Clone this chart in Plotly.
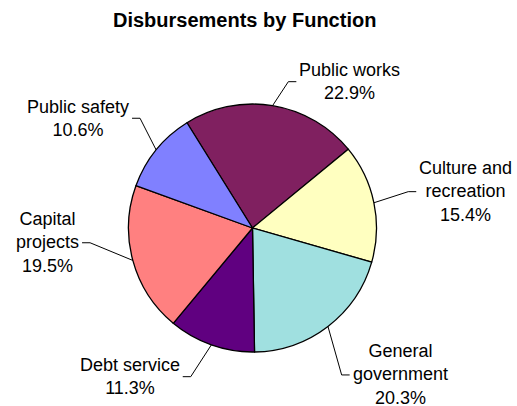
import math
import plotly.graph_objects as go

# ---- data ----
categories = ["Public works", "Culture and recreation", "General government",
              "Debt service", "Capital projects", "Public safety"]
label_lines = ["Public works", "Culture and<br>recreation", "General<br>government",
               "Debt service", "Capital<br>projects", "Public safety"]
shares = [22.9, 15.4, 20.3, 11.3, 19.5, 10.6]
colors = ["#802060", "#FFFFC0", "#A0E0E0", "#600080", "#FF8080", "#8080FF"]
title_text = "Disbursements by Function"

# ---- layout config ----
W, H = 517, 406
CX, CY, R = 252.5, 228.0, 124.0       # pie centre / radius in pixels
START = -31.9                          # first slice start angle (deg, clockwise from 12 o'clock)
# label elbow points relative to pie centre, in radius units (y downward)
elbows = [(0.289, -1.180), (1.256, -0.293), (0.719, 1.185),
          (-0.498, 1.199), (-1.310, 0.119), (-0.907, -0.885)]
HSEG = 8.0
FONT = "Arial, Liberation Sans, sans-serif"

def px(x):
    return x / W

def py(y):
    return 1 - y / H

fig = go.Figure(go.Pie(
    labels=categories, values=shares, sort=False, direction="clockwise",
    rotation=START, textinfo="none", hoverinfo="label+percent",
    marker=dict(colors=colors, line=dict(color="black", width=1.3)),
    domain=dict(x=[px(CX - R), px(CX + R)], y=[py(CY + R), py(CY - R)]),
    showlegend=False,
))

total = sum(shares)
shapes, annotations = [], []
angle = START
for name, txt, v, (ex, ey) in zip(categories, label_lines, shares, elbows):
    span = v / total * 360.0
    mid = math.radians(angle + span / 2)
    angle += span
    x0 = CX + R * math.sin(mid)
    y0 = CY - R * math.cos(mid)
    x1 = CX + ex * R
    y1 = CY + ey * R
    side = 1 if ex > 0 else -1
    x2 = x1 + side * HSEG
    shapes.append(dict(
        type="path", xref="paper", yref="paper",
        path=f"M {px(x0)} {py(y0)} L {px(x1)} {py(y1)} L {px(x2)} {py(y1)}",
        line=dict(color="black", width=1),
    ))
    pct = f"{v / total * 100:.1f}%"
    annotations.append(dict(
        text=f"{txt}<br>{pct}", showarrow=False, xref="paper", yref="paper",
        x=px(x2 + side * 1), y=py(y1),
        xanchor="left" if side > 0 else "right", yanchor="middle", align="center",
        font=dict(family=FONT, size=18, color="black"),
    ))

annotations.append(dict(
    text=f"<b>{title_text}</b>", showarrow=False, xref="paper", yref="paper",
    x=px(245), y=py(20), xanchor="center", yanchor="middle",
    font=dict(family=FONT, size=20, color="black"),
))

fig.update_layout(
    width=W, height=H, margin=dict(l=0, r=0, t=0, b=0),
    paper_bgcolor="white", plot_bgcolor="white",
    shapes=shapes, annotations=annotations,
)

fig.write_html("out.html", config={"displayModeBar": False},
               post_script="document.body.style.margin='0px';document.body.style.overflow='hidden';")
